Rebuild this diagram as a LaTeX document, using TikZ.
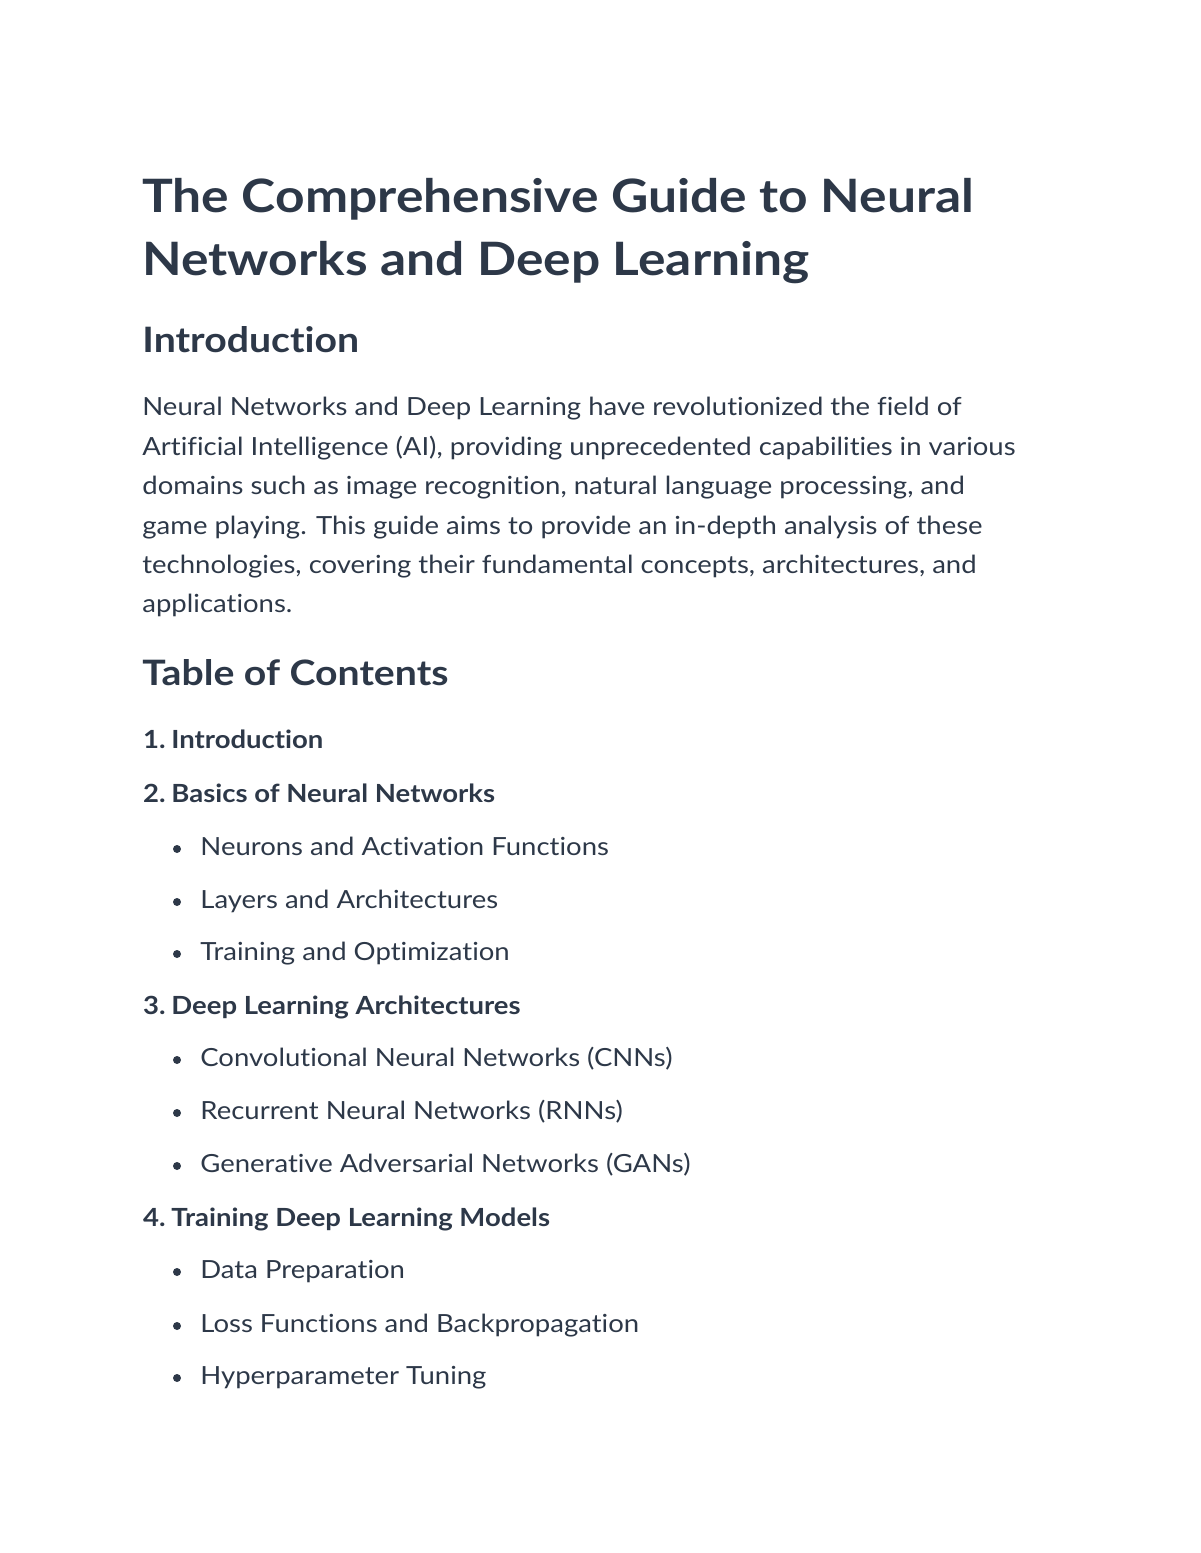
\documentclass[tikz,border=0pt]{standalone}
\usepackage{fontspec}
\setmainfont{Lato}[FakeStretch=1.1,Ligatures={NoCommon,NoContextual}]
\newfontfamily\titlefont{Lato}[FakeStretch=1.12,Ligatures={NoCommon,NoContextual}]
\definecolor{ink}{HTML}{2D3848}
\begin{document}
\begin{tikzpicture}[x=0.5pt,y=-0.5pt,
  t/.style={anchor=base west,inner sep=0pt,text=ink,font=\fontsize{12.5}{15}\selectfont},
  b/.style={t,font=\fontsize{12.5}{15}\bfseries\selectfont},
  h1/.style={t,font=\titlefont\fontsize{23}{28}\bfseries\selectfont},
  h2/.style={t,font=\titlefont\fontsize{17.5}{21}\bfseries\selectfont},
  dot/.style={circle,fill=ink,inner sep=0pt,minimum size=4pt}]
\useasboundingbox (0,0) rectangle (1200,1553);
\node[h1] (t1) at (142,212) {The Comprehensive Guide to Neural};
\node[h1] (t2) at (142,275) {Networks and Deep Learning};
\node[h2] (h1) at (142,352) {Introduction};
\node[t] (p1) at (142,415) {Neural Networks and Deep Learning have revolutionized the field of};
\node[t] (p2) at (142,455) {Artificial Intelligence (AI), providing unprecedented capabilities in various};
\node[t] (p3) at (142,494) {domains such as image recognition, natural language processing, and};
\node[t] (p4) at (142,534) {game playing. This guide aims to provide an in-depth analysis of these};
\node[t] (p5) at (142,573) {technologies, covering their fundamental concepts, architectures, and};
\node[t] (p6) at (142,612) {applications.};
\node[h2] (h2) at (142,685) {Table of Contents};
\node[b,anchor=base east] (n1) at (166,748) {1.}; \node[b] (l1) at (171,748) {Introduction};
\node[b,anchor=base east] (n2) at (166,802) {2.}; \node[b] (l2) at (171,802) {Basics of Neural Networks};
\node[dot] (d1) at (177,849) {}; \node[t] (s1) at (200,855) {Neurons and Activation Functions};
\node[dot] (d2) at (177,902) {}; \node[t] (s2) at (200,908) {Layers and Architectures};
\node[dot] (d3) at (177,954) {}; \node[t] (s3) at (200,960) {Training and Optimization};
\node[b,anchor=base east] (n3) at (166,1014) {3.}; \node[b] (l3) at (171,1014) {Deep Learning Architectures};
\node[dot] (d4) at (177,1060) {}; \node[t] (s4) at (200,1066) {Convolutional Neural Networks (CNNs)};
\node[dot] (d5) at (177,1113) {}; \node[t] (s5) at (200,1119) {Recurrent Neural Networks (RNNs)};
\node[dot] (d6) at (177,1166) {}; \node[t] (s6) at (200,1172) {Generative Adversarial Networks (GANs)};
\node[b,anchor=base east] (n4) at (166,1226) {4.}; \node[b] (l4) at (171,1226) {Training Deep Learning Models};
\node[dot] (d7) at (177,1272) {}; \node[t] (s7) at (200,1278) {Data Preparation};
\node[dot] (d8) at (177,1326) {}; \node[t] (s8) at (200,1332) {Loss Functions and Backpropagation};
\node[dot] (d9) at (177,1378) {}; \node[t] (s9) at (200,1384) {Hyperparameter Tuning};
\end{tikzpicture}
\end{document}
